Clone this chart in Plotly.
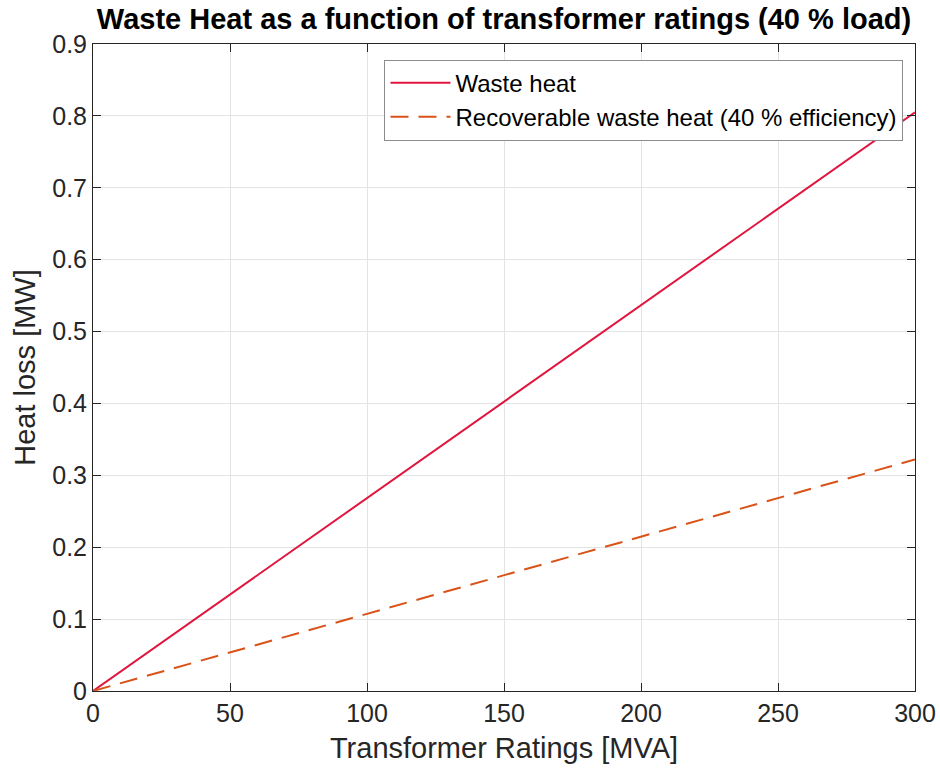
import plotly.graph_objects as go

# Transformer rating (MVA) and the corresponding heat figures (MW)
ratings_mva = [0, 50, 100, 150, 200, 250, 300]
waste_heat_mw = [0.0, 0.134, 0.268, 0.4025, 0.537, 0.671, 0.805]
recoverable_heat_mw = [0.0, 0.0537, 0.107, 0.161, 0.215, 0.268, 0.322]

x_ticks = [0, 50, 100, 150, 200, 250, 300]
y_ticks = [0, 0.1, 0.2, 0.3, 0.4, 0.5, 0.6, 0.7, 0.8, 0.9]

FONT = "Liberation Sans, Arial, Helvetica, sans-serif"
AXIS_COLOR = "#262626"
GRID_COLOR = "#E3E3E3"

fig = go.Figure()
fig.add_trace(go.Scatter(
    x=ratings_mva, y=waste_heat_mw, mode="lines", name="Waste heat",
    line=dict(color="#E0163F", width=2),
))
fig.add_trace(go.Scatter(
    x=ratings_mva, y=recoverable_heat_mw, mode="lines",
    name="Recoverable waste heat (40 % efficiency)",
    line=dict(color="#D95319", width=2, dash="18px,10px"),
))

axis_common = dict(
    showline=True, linecolor=AXIS_COLOR, linewidth=1, mirror="ticks",
    ticks="inside", ticklen=8, tickcolor=AXIS_COLOR, tickwidth=1,
    showgrid=True, gridcolor=GRID_COLOR, gridwidth=1, zeroline=False,
    automargin=False,
    tickfont=dict(family=FONT, size=25, color=AXIS_COLOR),
)

fig.update_xaxes(
    range=[0, 300], tickvals=x_ticks,
    ticktext=[str(v) for v in x_ticks],
    title=dict(text="Transformer Ratings [MVA]", standoff=11,
               font=dict(family=FONT, size=29, color=AXIS_COLOR)),
    **axis_common,
)
fig.update_yaxes(
    range=[0, 0.9], tickvals=y_ticks,
    ticktext=["0"] + [f"{v:.1f}" for v in y_ticks[1:]],
    title=dict(text="Heat loss [MW]", standoff=8,
               font=dict(family=FONT, size=29, color=AXIS_COLOR)),
    **axis_common,
)

fig.update_layout(
    width=940, height=768, autosize=False,
    margin=dict(l=93, r=25, t=44, b=77),
    paper_bgcolor="white", plot_bgcolor="white",
    title=dict(
        text="<b>Waste Heat as a function of transformer ratings (40 % load)</b>",
        x=(93 + 411) / 940, xanchor="center", y=1 - 19 / 768, yanchor="middle",
        font=dict(family=FONT, size=29, color="black"),
    ),
    legend=dict(
        x=0.986, xanchor="right", y=0.976, yanchor="top",
        bgcolor="white", bordercolor="#8C8C8C", borderwidth=1,
        font=dict(family=FONT, size=24, color="black"),
        tracegroupgap=0, itemwidth=60,
    ),
    showlegend=True,
)

fig.write_html("out.html")
